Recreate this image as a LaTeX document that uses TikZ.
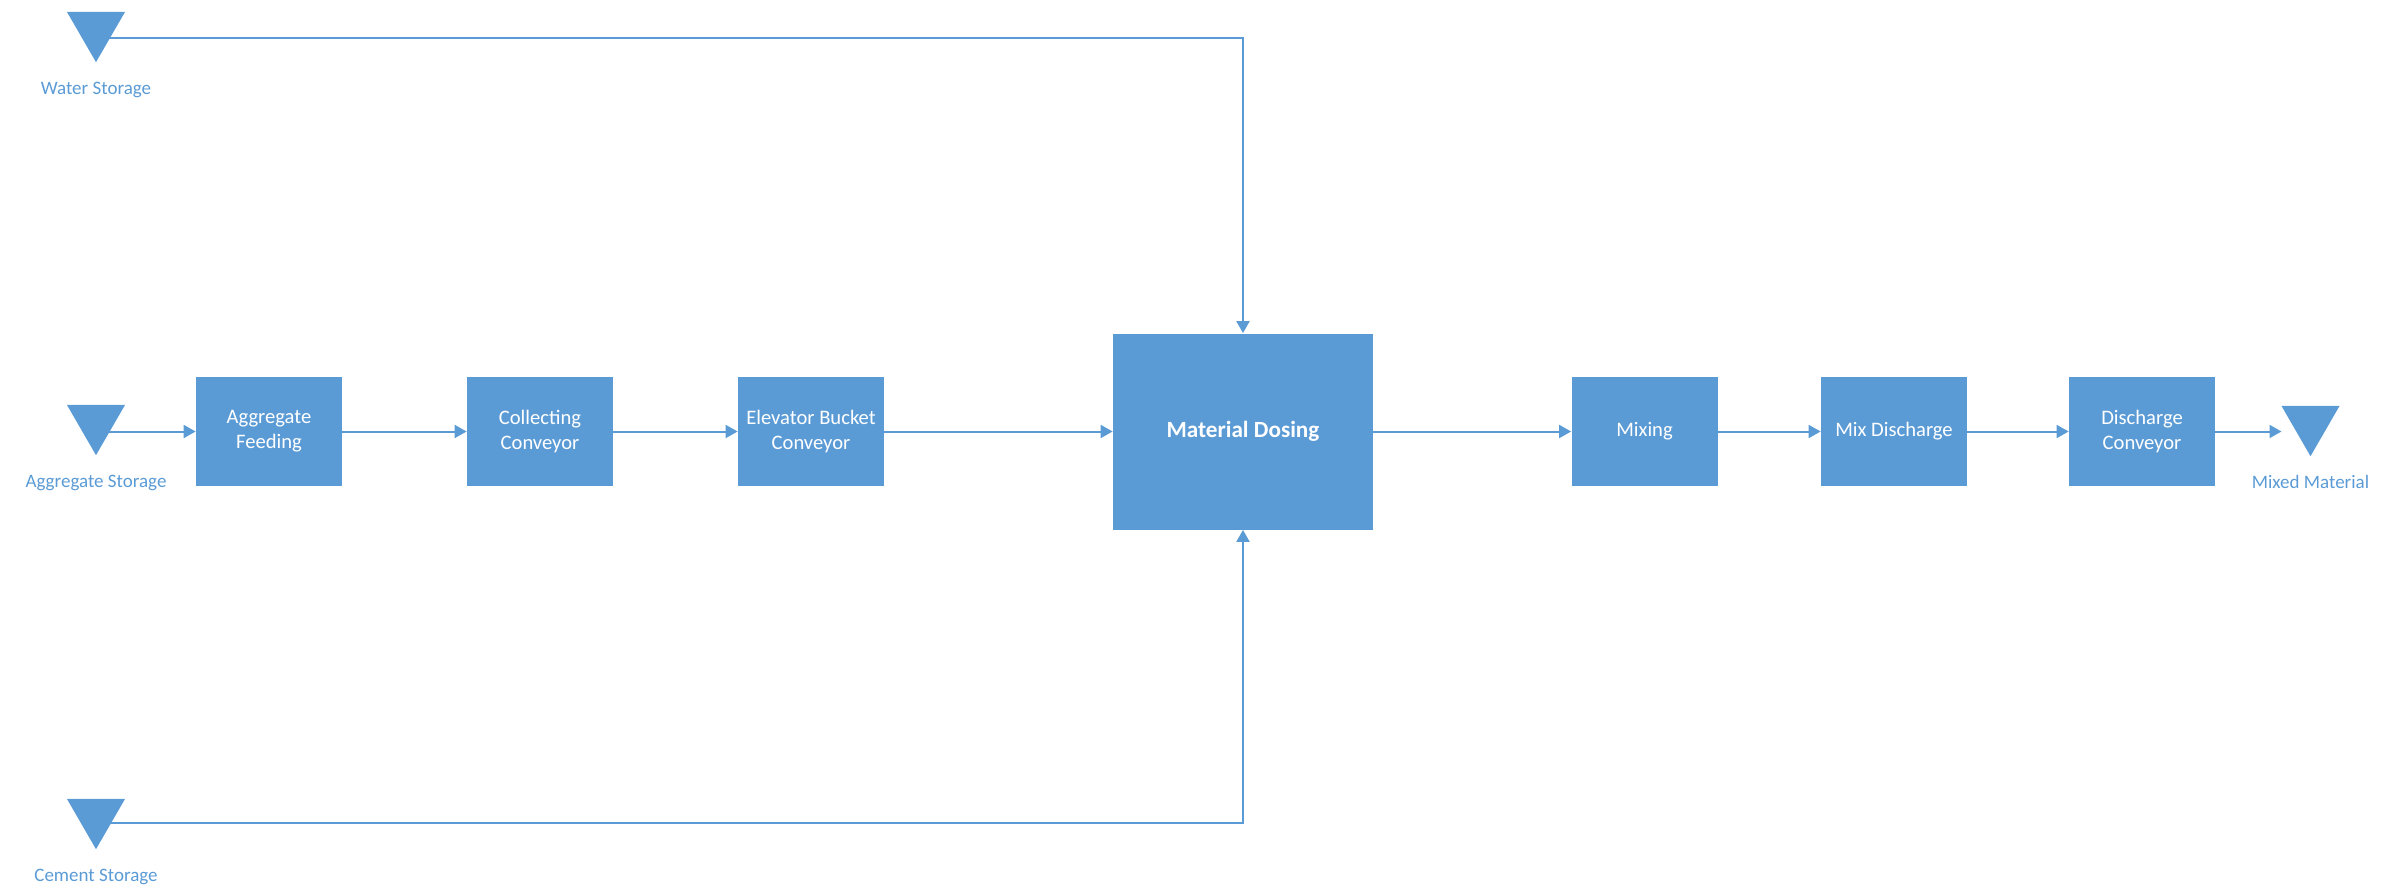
\documentclass[tikz,border=0pt]{standalone}
\usepackage{fontspec}
\setmainfont{Carlito}
\usetikzlibrary{shapes.geometric,arrows.meta}
\definecolor{flowblue}{HTML}{5B9BD5}
\begin{document}
\begin{tikzpicture}[x=0.5pt,y=-0.5pt,
  procbox/.style={rectangle,fill=flowblue,draw=none,text=white,align=center,
    minimum width=73pt,minimum height=54.5pt,inner sep=0pt,font=\fontsize{10.3}{12.6}\selectfont},
  bigbox/.style={procbox,minimum width=130pt,minimum height=98pt,
    font=\fontsize{11.6}{14}\selectfont\bfseries},
  store/.style={regular polygon,regular polygon sides=3,shape border rotate=180,
    fill=flowblue,draw=none,inner sep=0pt,minimum size=33.5pt},
  storelabel/.style={text=flowblue,inner sep=0pt,font=\fontsize{9.5}{11}\selectfont},
  flow/.style={draw=flowblue,line width=1pt,-{Triangle[length=6pt,width=6.5pt]}}]
\useasboundingbox (0,0) rectangle (2390,889);

% storage symbols and their labels
\node[store] (water) at (96,28.7) {};
\node[storelabel] (waterlbl) at (96,90) {Water Storage};
\node[store] (agg) at (96,421.7) {};
\node[storelabel] (agglbl) at (96,483) {Aggregate Storage};
\node[store] (cement) at (96,815.7) {};
\node[storelabel] (cementlbl) at (96,877) {Cement Storage};
\node[store] (mixed) at (2310.5,422.7) {};
\node[storelabel] (mixedlbl) at (2310.5,482) {Mixed Material};

% process steps
\node[procbox] (feed) at (269,431.5) {Aggregate\\Feeding};
\node[procbox] (collect) at (540,431.5) {Collecting\\Conveyor};
\node[procbox] (elevator) at (811,431.5) {Elevator Bucket\\Conveyor};
\node[bigbox] (dosing) at (1243,431.5) {Material Dosing};
\node[procbox] (mixing) at (1644.5,431.5) {Mixing};
\node[procbox] (mixdis) at (1894,431.5) {Mix Discharge};
\node[procbox] (disconv) at (2142,431.5) {Discharge\\Conveyor};

% points where the water and cement feeds turn
\coordinate (wturn) at (1243,38);
\coordinate (cturn) at (1243,823);

% connectors
\draw[flow] (water.center |- wturn) -- (wturn) -- (dosing.north);
\draw[flow] (cement.center |- cturn) -- (cturn) -- (dosing.south);
\draw[flow] (agg.center |- feed.west) -- (feed.west);
\draw[flow] (feed) -- (collect);
\draw[flow] (collect) -- (elevator);
\draw[flow] (elevator) -- (dosing);
\draw[flow] (dosing) -- (mixing);
\draw[flow] (mixing) -- (mixdis);
\draw[flow] (mixdis) -- (disconv);
\draw[flow] (disconv.east) -- ([xshift=-14.5pt]mixed.center |- disconv.east);
\end{tikzpicture}
\end{document}
